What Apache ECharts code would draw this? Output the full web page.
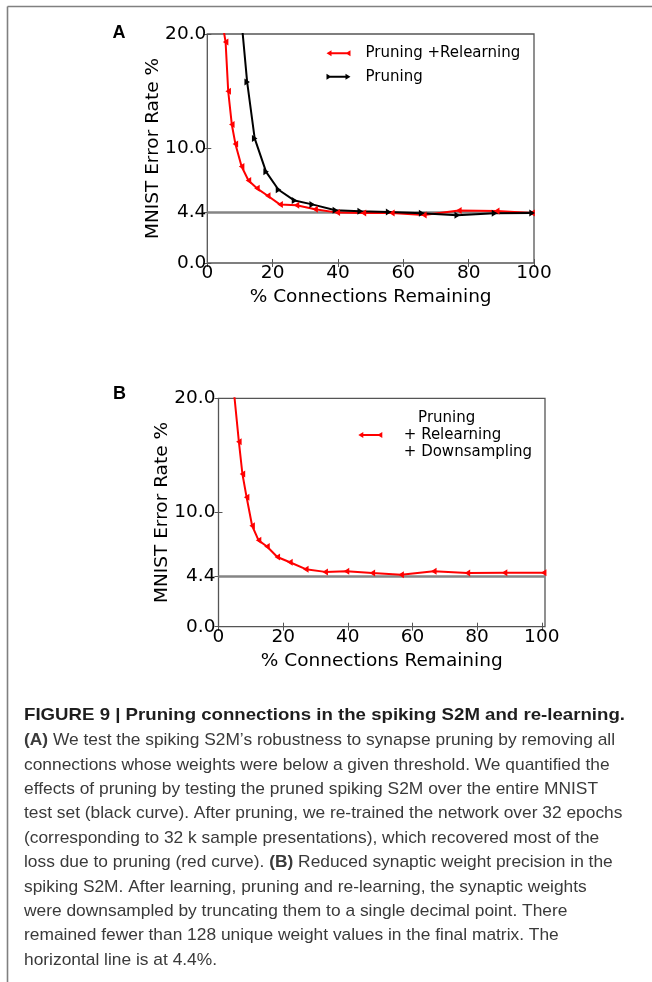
<!DOCTYPE html>
<html><head><meta charset="utf-8">
<script src="https://cdn.jsdelivr.net/npm/echarts@6/dist/echarts.min.js"></script>
<style>html,body{margin:0;padding:0;background:#fff}#c{width:652px;height:982px}</style>
</head><body><div id="c"></div>
<script>
// ---------- data ----------
const xTicks = [0, 20, 40, 60, 80, 100];
const yTicks = [0, 4.4, 10, 20];
const refLine = 4.4;
const xMaxA = 100, xMaxB = 101, yMax = 20;

// Panel A: pruning + relearning (red)
const relearnX = [4.9, 5.6, 6.4, 7.5, 8.6, 10.5, 12.6, 15.2, 18.5, 22.3, 27.3, 33.0, 39.8, 47.8, 56.5, 66.3, 77.0, 88.6, 99.4];
const relearnY = [20.5, 19.3, 15.0, 12.1, 10.4, 8.43, 7.2, 6.52, 5.87, 5.1, 5.05, 4.7, 4.4, 4.37, 4.37, 4.2, 4.58, 4.55, 4.37];
// Panel A: pruning only (black)
const pruneX = [10.2, 12.2, 14.5, 18.0, 21.8, 26.7, 32.1, 39.2, 46.8, 55.5, 65.6, 76.5, 87.9, 99.4];
const pruneY = [22.0, 15.8, 10.88, 7.96, 6.4, 5.45, 5.12, 4.6, 4.52, 4.46, 4.34, 4.17, 4.34, 4.37];
// Panel B: pruning + relearning + downsampling (red)
const downX = [4.8, 6.3, 7.4, 8.7, 10.4, 12.4, 15.0, 18.2, 22.1, 27.0, 33.0, 39.6, 47.6, 56.5, 66.6, 77.0, 88.5, 100.6];
const downY = [20.5, 16.2, 13.37, 11.33, 8.84, 7.56, 7.02, 6.1, 5.64, 5.04, 4.8, 4.85, 4.7, 4.55, 4.85, 4.7, 4.73, 4.73];

const nameRelearn = 'Pruning +Relearning';
const namePrune = 'Pruning';
const nameDown = 'Pruning + Relearning + Downsampling';
const labelDown = '   Pruning\n+ Relearning\n+ Downsampling';
const xTitle = '% Connections Remaining';
const yTitle = 'MNIST Error Rate %';

const captionTitle = 'FIGURE 9 | Pruning connections in the spiking S2M and re-learning.';
const captionLines = [
  [['b', '(A)'], ['n', ' We test the spiking S2M\u2019s robustness to synapse pruning by removing all']],
  [['n', 'connections whose weights were below a given threshold. We quantified the']],
  [['n', 'effects of pruning by testing the pruned spiking S2M over the entire MNIST']],
  [['n', 'test set (black curve). After pruning, we re-trained the network over 32 epochs']],
  [['n', '(corresponding to 32 k sample presentations), which recovered most of the']],
  [['n', 'loss due to pruning (red curve). '], ['b', '(B)'], ['n', ' Reduced synaptic weight precision in the']],
  [['n', 'spiking S2M. After learning, pruning and re-learning, the synaptic weights']],
  [['n', 'were downsampled by truncating them to a single decimal point. There']],
  [['n', 'remained fewer than 128 unique weight values in the final matrix. The']],
  [['n', 'horizontal line is at 4.4%.']]
];

// ---------- helpers ----------
const FONT = 'DejaVu Sans';
const AX = '#555';
const FS = 18.5;
const pairs = (xs, ys) => xs.map((x, i) => [x, ys[i]]);

function xAxes(gi, max) {
  const base = {gridIndex: gi, type: 'value', min: 0, max: max, splitLine: {show: false}, axisLine: {show: false}};
  return [
    Object.assign({}, base, {
      position: 'bottom', name: xTitle, nameLocation: 'middle', nameGap: 24.5, nameMoveOverlap: false,
      nameTextStyle: {fontFamily: FONT, fontSize: FS, color: '#000'},
      axisTick: {show: true, inside: true, length: 4, lineStyle: {color: AX, width: 1}, customValues: xTicks},
      axisLabel: {show: true, customValues: xTicks, fontFamily: FONT, fontSize: FS, color: '#000', margin: 1, formatter: v => String(v)}
    }),
    Object.assign({}, base, {
      position: 'top',
      axisTick: {show: true, inside: true, length: 4, lineStyle: {color: AX, width: 1}, customValues: xTicks},
      axisLabel: {show: false}
    })
  ];
}
function yAxes(gi, gap, margin) {
  const base = {gridIndex: gi, type: 'value', min: 0, max: yMax, splitLine: {show: false}, axisLine: {show: false}};
  return [
    Object.assign({}, base, {
      position: 'left', name: yTitle, nameLocation: 'middle', nameGap: gap, nameRotate: 90, nameMoveOverlap: false,
      nameTextStyle: {fontFamily: FONT, fontSize: FS, color: '#000'},
      axisTick: {show: true, inside: true, length: 4, lineStyle: {color: AX, width: 1}, customValues: yTicks},
      axisLabel: {show: true, customValues: yTicks, fontFamily: FONT, fontSize: FS, color: '#000', margin: margin, formatter: v => v.toFixed(1)}
    }),
    Object.assign({}, base, {
      position: 'right',
      axisTick: {show: true, inside: true, length: 4, lineStyle: {color: AX, width: 1}, customValues: yTicks},
      axisLabel: {show: false}
    })
  ];
}
function curve(name, xs, ys, color, rot, xi, yi) {
  return {
    type: 'line', name: name, xAxisIndex: xi, yAxisIndex: yi, data: pairs(xs, ys),
    symbol: 'triangle', symbolSize: [7, 5.5], symbolRotate: rot, showSymbol: true, clip: true,
    lineStyle: {color: color, width: 2}, itemStyle: {color: color, borderWidth: 0},
    z: 3, animation: false
  };
}
function ref(xMax, xi, yi) {
  return {
    type: 'line', name: 'ref' + xi, xAxisIndex: xi, yAxisIndex: yi,
    data: [[0, refLine], [xMax, refLine]], showSymbol: false, symbol: 'none',
    lineStyle: {color: '#858585', width: 2.5}, z: 1, animation: false, silent: true
  };
}

const iconLeft = 'path://M0,3L5,0L5,6Z M2,2L22,2L22,4L2,4Z M19,3L24,0L24,6Z';
const iconRight = 'path://M0,0L5,3L0,6Z M2,2L22,2L22,4L2,4Z M19,0L24,3L19,6Z';

// ---------- caption ----------
const cv = document.createElement('canvas').getContext('2d');
const CAP_FAMILY = '"Liberation Sans", Arial, sans-serif';
const CAP_FS = 17;
function measure(segs) {
  let w = 0;
  segs.forEach(s => {
    cv.font = (s[0] === 'b' ? 'bold ' : '') + CAP_FS + 'px ' + CAP_FAMILY;
    w += cv.measureText(s[1]).width;
  });
  return w;
}
const bodyScale = 591 / measure(captionLines[0]);
const titleScale = 601 / measure([['b', captionTitle]]);
const graphics = [
  {type: 'line', shape: {x1: 7.5, y1: 6.5, x2: 652, y2: 6.5}, style: {stroke: '#808080', lineWidth: 1.6}},
  {type: 'line', shape: {x1: 7.5, y1: 6.5, x2: 7.5, y2: 982}, style: {stroke: '#808080', lineWidth: 1.6}},
  {type: 'text', x: 119, y: 33, style: {text: 'A', font: 'bold 18px "Liberation Sans", Arial', fill: '#000', align: 'center', verticalAlign: 'middle'}},
  {type: 'text', x: 119.5, y: 394, style: {text: 'B', font: 'bold 18px "Liberation Sans", Arial', fill: '#000', align: 'center', verticalAlign: 'middle'}},
  {type: 'text', x: 24, y: 715, scaleX: titleScale, style: {text: captionTitle, font: 'bold ' + CAP_FS + 'px ' + CAP_FAMILY, fill: '#1e1e1e', verticalAlign: 'middle'}}
];
captionLines.forEach((segs, i) => {
  const txt = segs.map(s => '{' + s[0] + '|' + s[1] + '}').join('');
  graphics.push({
    type: 'text', x: 24, y: 740.5 + i * 24.4, scaleX: bodyScale,
    style: {
      text: txt, verticalAlign: 'middle', fill: '#3a3a3a',
      rich: {
        n: {fontFamily: CAP_FAMILY, fontSize: CAP_FS, color: '#3a3a3a', verticalAlign: 'middle'},
        b: {fontFamily: CAP_FAMILY, fontSize: CAP_FS, fontWeight: 'bold', color: '#1e1e1e', verticalAlign: 'middle'}
      }
    }
  });
});

// ---------- chart ----------
const chart = echarts.init(document.getElementById('c'), null, {renderer: 'canvas'});
const xa = xAxes(0, xMaxA).concat(xAxes(1, xMaxB));
const ya = yAxes(0, 45, 1).concat(yAxes(1, 46.5, 3));
chart.setOption({
  animation: false,
  backgroundColor: '#fff',
  grid: [
    {left: 207.3, top: 34, width: 326.7, height: 229, show: true, borderColor: AX, borderWidth: 1.3, containLabel: false, outerBoundsMode: 'none'},
    {left: 218.5, top: 398.3, width: 326.5, height: 228.4, show: true, borderColor: AX, borderWidth: 1.3, containLabel: false, outerBoundsMode: 'none'}
  ],
  xAxis: xa,
  yAxis: ya,
  legend: [
    {
      data: [{name: nameRelearn, icon: iconLeft}, {name: namePrune, icon: iconRight}],
      orient: 'vertical', left: 321.5, top: 39.8, itemWidth: 24, itemHeight: 6, itemGap: 6.4,
      symbolRotate: 0, selectedMode: false,
      itemStyle: {borderWidth: 0},
      textStyle: {fontFamily: FONT, fontSize: 15, color: '#000', lineHeight: 17, padding: [0, 0, 0, 10]}
    },
    {
      data: [{name: nameDown, icon: iconLeft}],
      orient: 'vertical', left: 353.3, top: 404.5, itemWidth: 27, itemHeight: 6,
      symbolRotate: 0, selectedMode: false,
      itemStyle: {borderWidth: 0},
      formatter: () => labelDown,
      textStyle: {fontFamily: FONT, fontSize: 15, color: '#000', lineHeight: 17, padding: [0, 0, 0, 15]}
    }
  ],
  series: [
    ref(xMaxA, 0, 0),
    curve(nameRelearn, relearnX, relearnY, '#ff0000', 90, 0, 0),
    curve(namePrune, pruneX, pruneY, '#000000', -90, 0, 0),
    ref(xMaxB, 2, 2),
    curve(nameDown, downX, downY, '#ff0000', 90, 2, 2)
  ],
  graphic: graphics
});
</script>
</body></html>
